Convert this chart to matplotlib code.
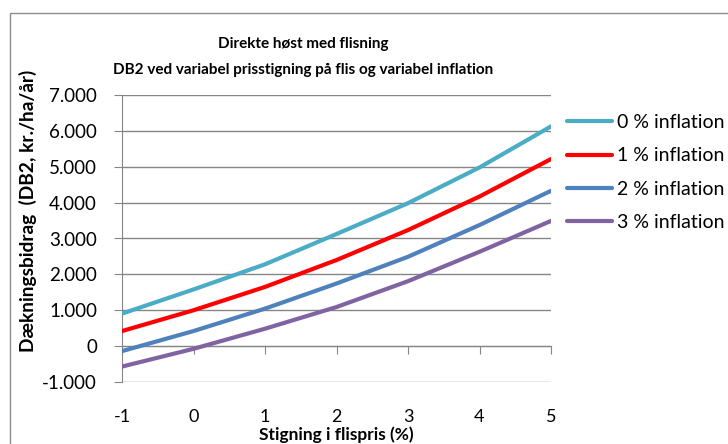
import matplotlib
matplotlib.use("Agg")
import matplotlib.pyplot as plt
from matplotlib.patches import Rectangle
from matplotlib.ticker import FuncFormatter

plt.rcParams['font.family'] = ['Lato', 'DejaVu Sans']
plt.rcParams['axes.unicode_minus'] = False

x = [-1, 0, 1, 2, 3, 4, 5]
infl0 = [906, 1580, 2280, 3125, 3985, 4980, 6125]
infl1 = [420, 1000, 1650, 2400, 3235, 4170, 5215]
infl2 = [-140, 420, 1045, 1745, 2490, 3375, 4330]
infl3 = [-570, -75, 485, 1090, 1810, 2630, 3490]
labels = ['0 % inflation', '1 % inflation', '2 % inflation', '3 % inflation']
colors = ['#4BACC6', '#FF0000', '#4F81BD', '#8064A2']
series = [infl0, infl1, infl2, infl3]
yticks = [-1000, 0, 1000, 2000, 3000, 4000, 5000, 6000, 7000]

W, H = 728, 444
fig = plt.figure(figsize=(W / 100, H / 100), dpi=100)
fig.patches.append(Rectangle((10 / W, -0.1), 1.2, 1 - 13 / H + 0.1,
                             transform=fig.transFigure, fill=False,
                             edgecolor='#8c8c8c', linewidth=1.0))

ax = fig.add_axes([122 / W, (H - 382) / H, (551 - 122) / W, (382 - 95) / H])
ax.set_xlim(-1, 5)
ax.set_ylim(-1000, 7000)

grid_c = '#868686'
for yv in yticks:
    ax.axhline(yv, color=grid_c, linewidth=1.0, zorder=1)

for s, c, l in zip(series, colors, labels):
    ax.plot(x, s, color=c, linewidth=3.0, label=l, solid_capstyle='round', zorder=3)

for sp in ['top', 'right']:
    ax.spines[sp].set_visible(False)
ax.spines['left'].set_color(grid_c)
ax.spines['bottom'].set_color(grid_c)
ax.spines['bottom'].set_position(('data', 0))

ax.set_yticks(yticks)
ax.yaxis.set_major_formatter(FuncFormatter(lambda v, p: f"{int(v):,}".replace(',', '.')))
ax.set_xticks(x)
ax.tick_params(axis='y', direction='out', length=6, color=grid_c, labelsize=13.5, pad=12)
ax.tick_params(axis='x', direction='out', length=6, color=grid_c, labelsize=13, pad=39)

fig.text(303 / W, 1 - 44 / H, 'Direkte høst med flisning', ha='center', va='center',
         fontsize=11, fontweight='bold')
fig.text(303 / W, 1 - 70 / H, 'DB2 ved variabel prisstigning på flis og variabel inflation',
         ha='center', va='center', fontsize=11, fontweight='bold')
fig.text(336 / W, 1 - 435 / H, 'Stigning i flispris (%)', ha='center', va='center',
         fontsize=12.5, fontweight='bold')
fig.text(28 / W, 1 - 211 / H, 'Dækningsbidrag  (DB2, kr./ha/år)', ha='center', va='center',
         rotation=90, fontsize=13.8, fontweight='bold')

leg = ax.legend(loc='upper left', bbox_to_anchor=(567 / W, 1 - 114 / H),
                bbox_transform=fig.transFigure, frameon=False, fontsize=14,
                handlelength=2.3, handletextpad=0.26, labelspacing=0.84,
                borderpad=0, borderaxespad=0)

fig.savefig('out.png', dpi=100)
